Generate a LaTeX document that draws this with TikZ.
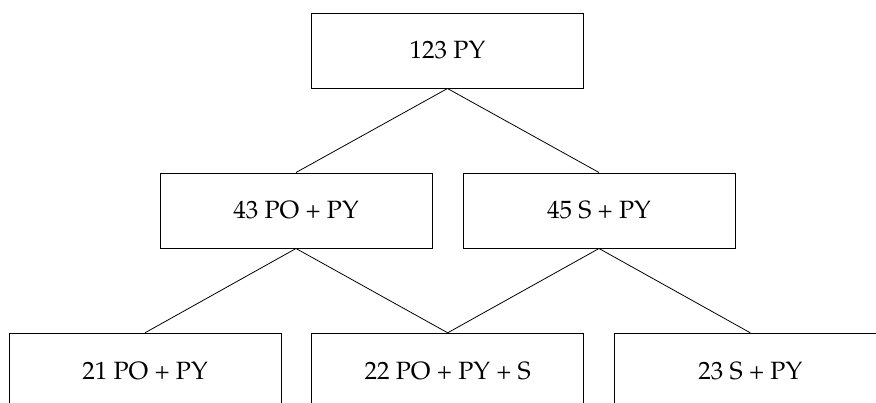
\documentclass[tikz,border=0pt]{standalone}
\usepackage[T1]{fontenc}
\renewcommand{\rmdefault}{ppl}
\begin{document}
\begin{tikzpicture}[x=1pt,y=-1pt,
  box/.style={draw=black,line width=1pt,rectangle,minimum width=272pt,minimum height=75pt,inner sep=0pt,
    font=\fontsize{25}{30}\selectfont},
  link/.style={draw=black,line width=0.8pt}]
\useasboundingbox (0,0) rectangle (876,402);
\clip (0,0) rectangle (876,402);
\node[box] (top) at (447.5,50.5) {123 PY};
\node[box] (ml) at (296,210.5) {43 PO + PY};
\node[box] (mr) at (599,210.5) {45 S + PY};
\node[box] (bl) at (145,370.8) {21 PO + PY};
\node[box] (bm) at (447.7,370.8) {22 PO + PY + S};
\node[box] (br) at (750.3,370.8) {23 S + PY};
\draw[link] (top.south) -- (ml.north);
\draw[link] (top.south) -- (mr.north);
\draw[link] (ml.south) -- (bl.north);
\draw[link] (ml.south) -- (bm.north);
\draw[link] (mr.south) -- (bm.north);
\draw[link] (mr.south) -- (br.north);
\end{tikzpicture}
\end{document}
